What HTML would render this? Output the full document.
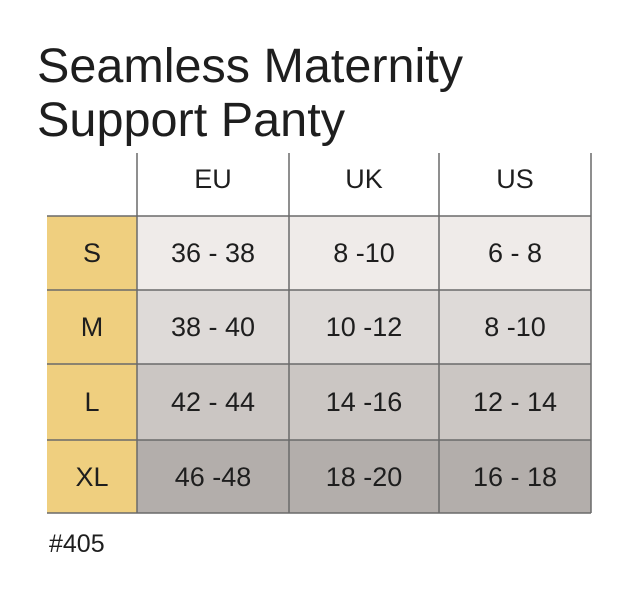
<!DOCTYPE html>
<html><head><meta charset="utf-8"><style>html,body{margin:0;padding:0;background:#fff}svg{display:block}</style></head>
<body>
<svg width="640" height="601" xmlns="http://www.w3.org/2000/svg" font-family="Liberation Sans, sans-serif" fill="#1e1e1e">
<text x="37" y="82" font-size="48" textLength="426" lengthAdjust="spacingAndGlyphs">Seamless Maternity</text>
<text x="37" y="136" font-size="48" textLength="308" lengthAdjust="spacingAndGlyphs">Support Panty</text>
<rect x="47" y="216" width="90" height="297" fill="#efcf7f"/>
<rect x="137" y="216" width="454" height="74" fill="#efebe9"/>
<rect x="137" y="290" width="454" height="74" fill="#dedad8"/>
<rect x="137" y="364" width="454" height="76" fill="#cbc6c3"/>
<rect x="137" y="440" width="454" height="73" fill="#b3aeab"/>
<g stroke="#6a6a6a" stroke-width="1.5">
<line x1="47" y1="216" x2="591" y2="216"/>
<line x1="47" y1="290" x2="591" y2="290"/>
<line x1="47" y1="364" x2="591" y2="364"/>
<line x1="47" y1="440" x2="591" y2="440"/>
<line x1="47" y1="513" x2="591" y2="513"/>
<line x1="137" y1="153" x2="137" y2="513"/>
<line x1="289" y1="153" x2="289" y2="513"/>
<line x1="439" y1="153" x2="439" y2="513"/>
<line x1="591" y1="153" x2="591" y2="513"/>
</g>
<g font-size="27" text-anchor="middle">
<text x="213" y="188">EU</text><text x="364" y="188">UK</text><text x="515" y="188">US</text>
<text x="92" y="262">S</text><text x="92" y="336">M</text><text x="92" y="411">L</text><text x="92" y="486">XL</text>
<text x="213" y="262">36 - 38</text><text x="364" y="262">8 -10</text><text x="515" y="262">6 - 8</text>
<text x="213" y="336">38 - 40</text><text x="364" y="336">10 -12</text><text x="515" y="336">8 -10</text>
<text x="213" y="411">42 - 44</text><text x="364" y="411">14 -16</text><text x="515" y="411">12 - 14</text>
<text x="213" y="486">46 -48</text><text x="364" y="486">18 -20</text><text x="515" y="486">16 - 18</text>
</g>
<text x="49" y="552" font-size="25">#405</text>
</svg>
</body></html>
